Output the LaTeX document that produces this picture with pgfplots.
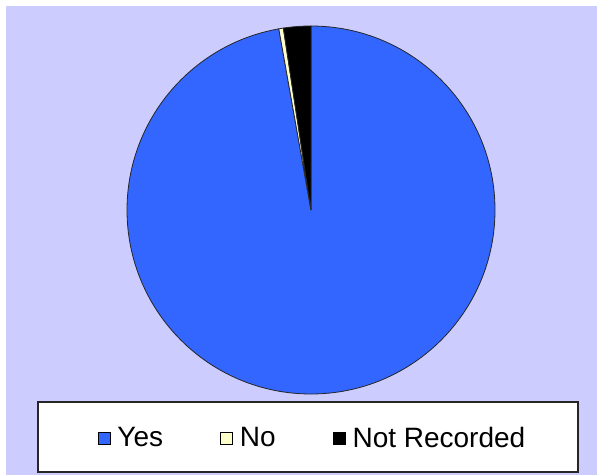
\documentclass[border=0pt]{standalone}
\usepackage{pgfplots}
\usepackage{pgfplotstable}
\pgfplotsset{compat=1.18}
\usepackage{fontspec}
\setmainfont{Liberation Sans}
\definecolor{pieblue}{HTML}{3366FF}
\definecolor{pieyellow}{HTML}{FFFFCC}
\definecolor{lav}{HTML}{CCCCFF}
\pgfplotstableread{
label value
Yes 97.2
No 0.4
NotRecorded 2.4
}\piedata
\begin{document}
\begin{tikzpicture}
\pgfplotstablegetelem{0}{value}\of\piedata \let\vA\pgfplotsretval
\pgfplotstablegetelem{1}{value}\of\piedata \let\vB\pgfplotsretval
\pgfplotstablegetelem{2}{value}\of\piedata \let\vC\pgfplotsretval
\pgfmathsetmacro\aA{90}
\pgfmathsetmacro\aB{90-3.6*\vA}
\pgfmathsetmacro\aC{\aB-3.6*\vB}
\pgfmathsetmacro\aD{\aC-3.6*\vC}
\begin{axis}[
  width=597pt, height=475pt, scale only axis,
  xmin=0, xmax=597, ymin=0, ymax=475,
  axis lines=none, clip=false,
  legend columns=3,
  legend style={at={(axis cs:312.5,37)}, anchor=center, draw=none, fill=none,
    font=\fontsize{28}{30}\selectfont,
    /tikz/every odd column/.append style={column sep=5pt},
    /tikz/every even column/.append style={column sep=55pt}},
  legend image code/.code={\draw[#1, draw=black, line width=0.8pt] (0pt,-6pt) rectangle (12pt,6pt);},
]
\fill[white] (axis cs:0,0) rectangle (axis cs:597,475);
\fill[lav] (axis cs:6,0) rectangle (axis cs:597,469);
\filldraw[fill=pieblue, draw=black!85, line width=0.8pt] (axis cs:311,265) -- ++(\aA:184pt) arc[start angle=\aA, end angle=\aB, radius=184pt] -- cycle;
\filldraw[fill=pieyellow, draw=black!85, line width=0.8pt] (axis cs:311,265) -- ++(\aB:184pt) arc[start angle=\aB, end angle=\aC, radius=184pt] -- cycle;
\filldraw[fill=black, draw=black!85, line width=0.8pt] (axis cs:311,265) -- ++(\aC:184pt) arc[start angle=\aC, end angle=\aD, radius=184pt] -- cycle;
\filldraw[fill=white, draw=black!85, line width=1.2pt] (axis cs:38,3) rectangle (axis cs:578,73);
\addlegendimage{fill=pieblue}\addlegendentry{Yes}
\addlegendimage{fill=pieyellow}\addlegendentry{No}
\addlegendimage{fill=black}\addlegendentry{Not Recorded}
\end{axis}
\end{tikzpicture}
\end{document}
